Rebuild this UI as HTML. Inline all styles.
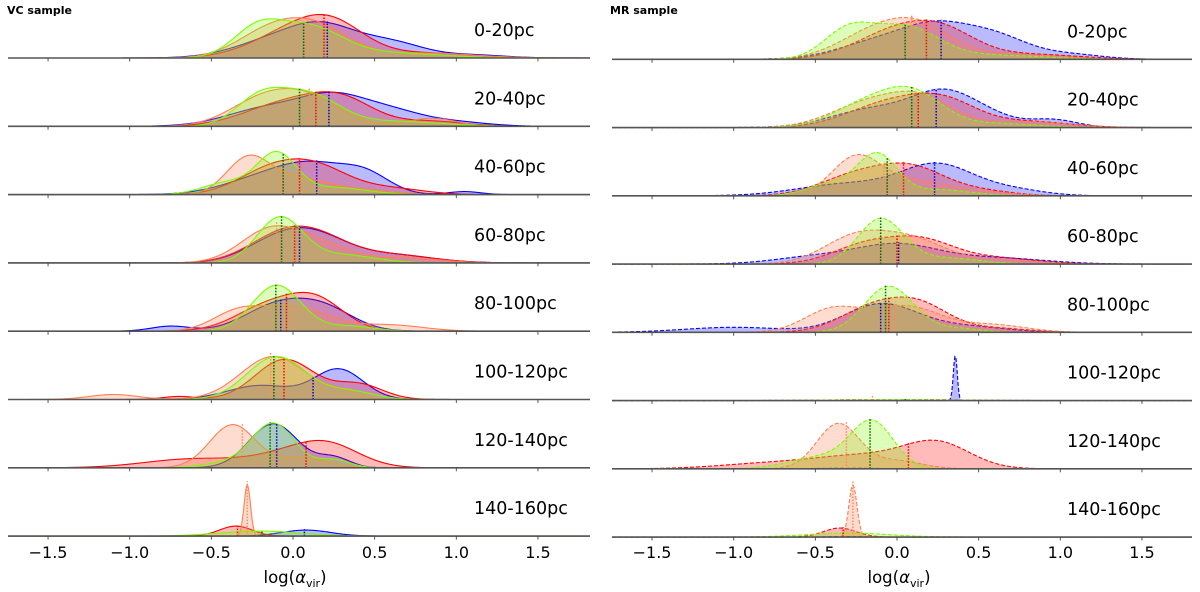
<!DOCTYPE html>
<html><head><meta charset="utf-8"><style>
html,body{margin:0;padding:0;background:#fff;}
svg{display:block;font-family:"DejaVu Sans","Liberation Sans",sans-serif;}
</style></head><body>
<svg id="chart" width="1200" height="592" viewBox="0 0 1200 592" xmlns="http://www.w3.org/2000/svg"></svg>
<script>
// ---- data ----
const rowLabels = ["0-20pc","20-40pc","40-60pc","60-80pc","80-100pc","100-120pc","120-140pc","140-160pc"];
const tickValues = [-1.5,-1.0,-0.5,0.0,0.5,1.0,1.5];
const tickLabels = ["\u22121.5","\u22121.0","\u22120.5","0.0","0.5","1.0","1.5"];
const seriesNames = ["blue","red","coral","green"];
// density mixtures per row: [mean, sd, amplitude]
const vcBlue = [
 [[-0.1,0.25,18],[0.2,0.2,25],[0.6,0.2,15],[1.1,0.2,3]],
 [[-0.15,0.25,18],[0.25,0.2,26],[0.6,0.2,14],[1.0,0.2,4]],
 [[-0.15,0.25,18],[0.15,0.2,22],[0.45,0.15,18],[1.05,0.1,3]],
 [[-0.1,0.2,20],[0.15,0.2,22],[0.6,0.25,8]],
 [[-0.75,0.12,5],[-0.1,0.2,25],[0.2,0.18,20]],
 [[-0.2,0.2,14],[0.28,0.15,30]],
 [[-0.12,0.15,44],[0.25,0.1,10]],
 [[0.08,0.15,6]]
];
const vcRed = [
 [[0.0,0.25,25],[0.25,0.2,25],[0.8,0.3,5]],
 [[-0.05,0.25,22],[0.3,0.2,24],[0.85,0.2,5]],
 [[-0.15,0.2,22],[0.15,0.2,25],[0.6,0.2,6]],
 [[-0.1,0.2,22],[0.15,0.2,22],[0.6,0.25,8]],
 [[-0.15,0.2,25],[0.15,0.17,28]],
 [[-0.7,0.1,3],[-0.05,0.18,40],[0.4,0.15,15]],
 [[-0.6,0.3,9],[0.2,0.2,24],[-0.1,0.2,8]],
 [[-0.35,0.1,10]]
];
const vcCoral = [
 [[-0.15,0.2,25],[0.15,0.2,28],[0.8,0.3,5]],
 [[-0.2,0.2,24],[0.1,0.2,26],[0.85,0.15,8]],
 [[-0.28,0.13,33],[0.0,0.2,16],[0.4,0.2,4]],
 [[-0.15,0.18,30],[0.15,0.2,18],[0.7,0.2,5]],
 [[-0.35,0.15,16],[0.0,0.22,24],[0.6,0.2,6]],
 [[-1.1,0.15,5],[-0.12,0.2,43],[0.3,0.12,6]],
 [[-0.37,0.14,43],[0.05,0.15,10]],
 [[-0.28,0.02,51]]
];
const vcGreen = [
 [[-0.22,0.15,28],[0.1,0.2,30],[0.6,0.3,5]],
 [[-0.2,0.15,28],[0.1,0.18,30],[0.6,0.3,5]],
 [[-0.1,0.12,40],[-0.4,0.15,12],[0.25,0.2,7]],
 [[-0.08,0.14,45],[0.3,0.2,8]],
 [[-0.1,0.15,46],[0.35,0.15,5]],
 [[-0.1,0.18,43],[0.35,0.15,8]],
 [[-0.12,0.13,44],[-0.4,0.15,5],[0.25,0.1,8]],
 [[-0.2,0.25,5]]
];
const vcMedians = [ // blue, red, coral, green
 [0.21,0.19,0.09,0.065],[0.22,0.14,0.10,0.04],[0.145,0.04,-0.07,-0.06],[0.04,0.01,-0.10,-0.07],
 [-0.075,-0.04,0.0,-0.105],[0.123,-0.055,-0.137,-0.117],[-0.10,0.08,-0.31,-0.14],[0.07,-0.34,-0.28,-0.19]
];
const mrBlue = [
 [[-0.1,0.25,18],[0.25,0.2,27],[0.6,0.2,22],[1.05,0.2,5]],
 [[-0.15,0.25,18],[0.3,0.2,34],[0.95,0.15,8],[0.6,0.15,6]],
 [[-0.3,0.3,12],[0.25,0.22,30],[0.7,0.2,6]],
 [[-0.5,0.25,7],[0.0,0.25,19],[0.6,0.3,6]],
 [[-1.0,0.3,5],[-0.1,0.22,28],[0.4,0.25,6]],
 [[0.357,0.012,45]],
 [[-0.3,0.2,0.5]],
 [[-0.3,0.1,0.5]]
];
const mrRed = [
 [[0.0,0.25,28],[0.3,0.2,20],[0.8,0.3,5]],
 [[-0.05,0.25,24],[0.3,0.2,22],[0.8,0.25,6]],
 [[-0.25,0.22,20],[0.1,0.2,25],[0.5,0.2,5]],
 [[-0.2,0.2,18],[0.15,0.2,22],[0.6,0.25,6]],
 [[-0.15,0.2,24],[0.15,0.18,24],[0.6,0.2,4]],
 [[0.0,0.35,1]],
 [[-0.8,0.3,5],[-0.2,0.3,13],[0.25,0.2,24]],
 [[-0.35,0.1,9]]
];
const mrCoral = [
 [[-0.15,0.22,25],[0.15,0.2,28],[0.7,0.3,5]],
 [[-0.2,0.22,22],[0.15,0.2,28],[0.8,0.25,6]],
 [[-0.25,0.15,38],[0.1,0.2,14],[0.5,0.2,4]],
 [[-0.25,0.2,27],[0.1,0.2,22],[0.6,0.25,4]],
 [[-0.4,0.17,22],[0.05,0.22,26],[0.6,0.2,7]],
 [[-0.1,0.3,1]],
 [[-0.36,0.13,45],[0.0,0.15,8]],
 [[-0.27,0.025,52]]
];
const mrGreen = [
 [[-0.3,0.15,28],[0.05,0.2,32],[0.6,0.3,4]],
 [[-0.2,0.2,22],[0.1,0.18,32],[0.6,0.25,4]],
 [[-0.12,0.12,40],[-0.4,0.15,12],[0.25,0.2,6]],
 [[-0.1,0.14,45],[0.3,0.2,6]],
 [[-0.05,0.15,46],[0.35,0.15,4]],
 [[0.0,0.3,1]],
 [[-0.15,0.13,45],[-0.45,0.2,12]],
 [[-0.3,0.25,4]]
];
const mrMedians = [
 [0.27,0.18,0.09,0.05],[0.24,0.13,0.09,0.09],[0.23,0.04,-0.08,-0.06],[0.01,0.0,-0.10,-0.10],
 [-0.10,-0.05,-0.01,-0.07],[null,null,-0.15,0.05],[null,0.07,-0.31,-0.165],[null,-0.33,-0.27,null]
];

// ---- drawing ----
const NS="http://www.w3.org/2000/svg";
const svg=document.getElementById('chart');
function mk(tag,attrs,parent){const e=document.createElementNS(NS,tag);for(const k in attrs)e.setAttribute(k,attrs[k]);(parent||svg).appendChild(e);return e;}
const lineCol={blue:"#0000ff",red:"#ff0000",coral:"#ff7f50",green:"#7cfc00"};
const fillCol={blue:"rgba(0,0,255,0.27)",red:"rgba(255,0,0,0.27)",coral:"rgba(255,127,80,0.27)",green:"rgba(124,252,0,0.27)"};
const medCol={blue:"#0000cc",red:"#ff0000",coral:"#ff8c60",green:"#006400"};
function dens(mix,v){let s=0;for(const c of mix)s+=c[2]*Math.exp(-0.5*((v-c[0])/c[1])**2);return s;}

const panels=[
 {name:"vc",title:"VC sample",tx:7,x0:293,left:8,right:590,base0:58,step:68.3,labelX:474,series:[vcBlue,vcRed,vcCoral,vcGreen],med:vcMedians,dash:null},
 {name:"mr",title:"MR sample",tx:610,x0:897,left:612,right:1192,base0:59.3,step:68.25,labelX:1067,series:[mrBlue,mrRed,mrCoral,mrGreen],med:mrMedians,dash:"4,2"}
];
const K=163.3;
panels.forEach(p=>{
 const g=mk('g',{});
 
 
 const xs=v=>p.x0+v*K;
 const vmin=(p.left-p.x0)/K, vmax=(p.right-p.x0)/K;
 const t=mk('text',{x:p.tx,y:14,'font-size':11,'font-weight':'bold',fill:'#000'},g);t.textContent=p.title;
 
 
 rowLabels.forEach((lab,r)=>{
  const base=p.base0+r*p.step;
  const rg=mk('g',{},g);
  
  
  p.series.forEach((ser,si)=>{
   const nm=seriesNames[si];const mix=ser[r];
   let pts=[];
   for(let v=vmin;v<=vmax+1e-9;v+=0.005){pts.push([xs(v),base-dens(mix,v)]);}
   const d='M'+pts.map(q=>q[0].toFixed(1)+','+q[1].toFixed(2)).join('L');
   const f=mk('path',{d:d+`L${xs(vmax)},${base}L${xs(vmin)},${base}Z`,fill:fillCol[nm],stroke:'none'},rg);
   
   
   const l=mk('path',{d:d,fill:'none',stroke:lineCol[nm],'stroke-width':1.1},rg);
   if(p.dash)l.setAttribute('stroke-dasharray',p.dash);
   
   
  });
  p.series.forEach((ser,si)=>{
   const nm=seriesNames[si];const m=p.med[r][si];if(m===null)return;
   const h=dens(ser[r],m)+(nm==='coral'?4:1);
   const ml=mk('line',{x1:xs(m),x2:xs(m),y1:base,y2:base-h,stroke:medCol[nm],'stroke-width':1.5,'stroke-dasharray':'1.5,1.5'},rg);
   
   
  });
  const ax=mk('line',{x1:p.left,x2:p.right,y1:base,y2:base,stroke:'#555','stroke-width':1.6},rg);
  
  
  tickValues.forEach(v=>{const tk=mk('line',{x1:xs(v),x2:xs(v),y1:base,y2:base+3.5,stroke:'#444','stroke-width':0.9},rg);
   
   });
  const tl=mk('text',{x:p.labelX,y:base-22,'font-size':17.5,fill:'#000'},rg);tl.textContent=lab;
  
  
 });
 tickValues.forEach((v,i)=>{const tt=mk('text',{x:xs(v),y:558,'font-size':16,'text-anchor':'middle',fill:'#000'},g);tt.textContent=tickLabels[i];
  
  });
 const xl=mk('text',{x:p.x0+2,y:583,'font-size':16.5,'text-anchor':'middle',fill:'#000'},g);
 xl.innerHTML='log(<tspan font-style="italic">α</tspan><tspan font-size="11" dy="4">vir</tspan><tspan dy="-4">)</tspan>';
 
 
});
</script>
</body></html>
